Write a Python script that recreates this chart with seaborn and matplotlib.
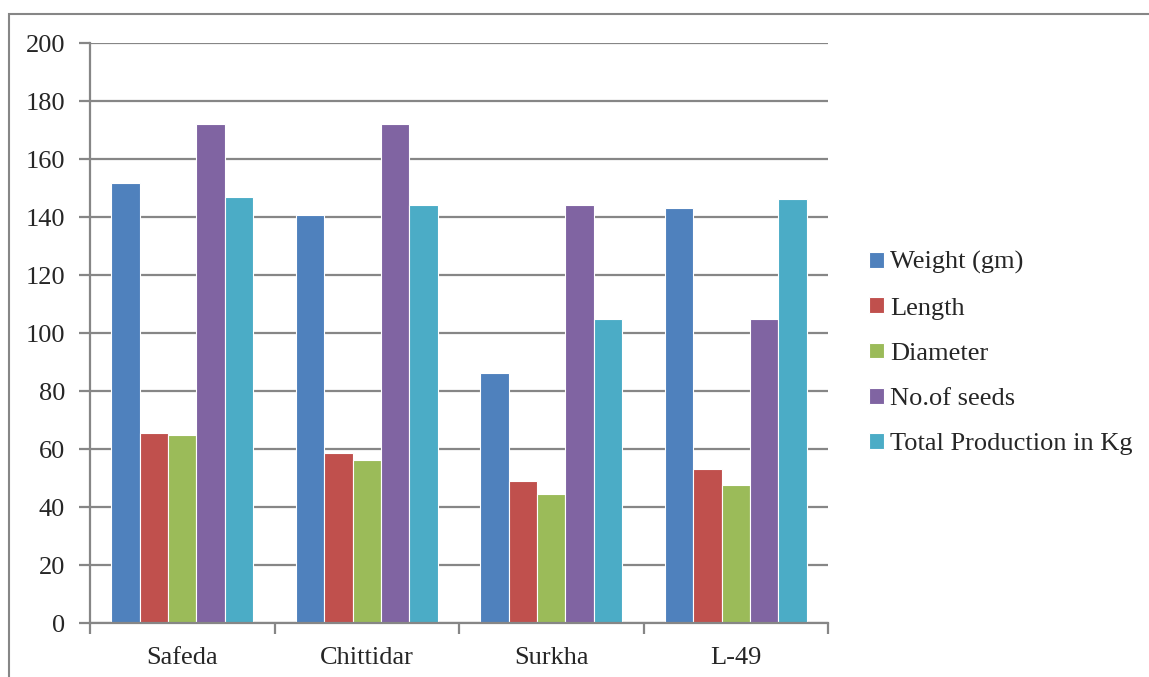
import numpy as np
import pandas as pd
import matplotlib
matplotlib.use("Agg")
import matplotlib.pyplot as plt
from matplotlib.patches import Rectangle
import seaborn as sns

varieties = ["Safeda", "Chittidar", "Surkha", "L-49"]
series = ["Weight (gm)", "Length", "Diameter", "No.of seeds", "Total Production in Kg"]
weight = [151.8, 140.6, 86.3, 143.0]
length = [65.6, 58.7, 49.0, 53.2]
diameter = [64.8, 56.2, 44.5, 47.5]
seeds = [172.0, 172.0, 144.0, 105.0]
production = [147.0, 144.0, 105.0, 146.1]
colors = ["#4F81BD", "#C0504D", "#9BBB59", "#8064A2", "#4BACC6"]

rows = []
for name, vals in zip(series, [weight, length, diameter, seeds, production]):
    for v, val in zip(varieties, vals):
        rows.append({"variety": v, "series": name, "value": val})
df = pd.DataFrame(rows)

sns.set_style("white")
plt.rcParams["font.family"] = ["Liberation Serif", "DejaVu Serif"]
plt.rcParams["font.size"] = 19

fig = plt.figure(figsize=(11.49, 6.77), dpi=100)
ax = fig.add_axes([90 / 1149, 54 / 677, 738 / 1149, 580 / 677])

sns.barplot(data=df, x="variety", y="value", hue="series", order=varieties,
            hue_order=series, palette=colors, width=0.77, ax=ax,
            edgecolor="white", linewidth=0.8, saturation=1)

ax.set_ylim(0, 200)
ax.set_xlim(-0.5, 3.5)
ax.set_yticks(np.arange(0, 201, 20))
ax.yaxis.grid(True, color="#868686", linewidth=1.6)
ax.set_axisbelow(True)
ax.set_xlabel("")
ax.set_ylabel("")
for s in ["top", "right"]:
    ax.spines[s].set_visible(False)
for s in ["left", "bottom"]:
    ax.spines[s].set_color("#868686")
    ax.spines[s].set_linewidth(1.6)
ax.tick_params(axis="y", direction="out", length=8, width=1.6, color="#868686",
               pad=10, labelsize=19, left=True)
ax.tick_params(axis="x", which="major", length=0, pad=17, labelsize=19)
ax.set_xticks(np.arange(-0.5, 3.6, 1), minor=True)
ax.tick_params(axis="x", which="minor", direction="out", length=8, width=1.6,
               color="#868686", bottom=True)

handles, labels = ax.get_legend_handles_labels()
ax.legend(handles, labels, loc="center left", bbox_to_anchor=(1.0556, 0.465),
          frameon=False, fontsize=19, handlelength=0.55, handleheight=0.55,
          handletextpad=0.25, labelspacing=0.87, borderaxespad=0, borderpad=0)

fig.patches.append(Rectangle((9 / 1149, -0.1), 1.2, (677 - 13.5) / 677 + 0.1,
                             transform=fig.transFigure, fill=False,
                             edgecolor="#868686", linewidth=1.5))

fig.savefig("out.png", dpi=100)
